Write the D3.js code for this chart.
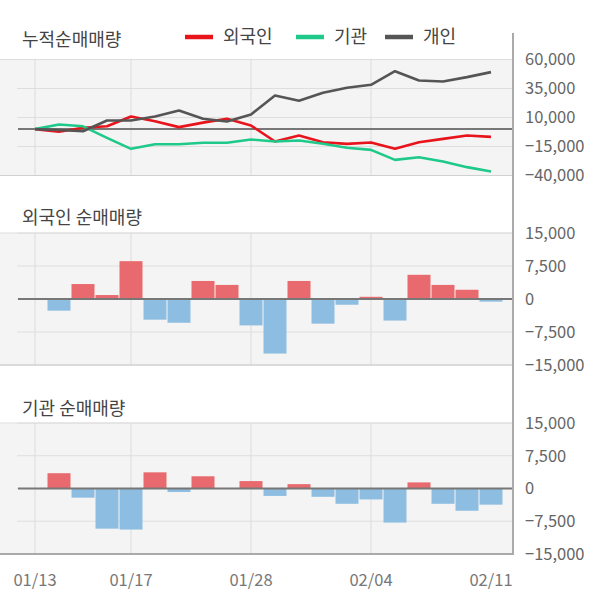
<!DOCTYPE html>
<html><head><meta charset="utf-8">
<script src="https://cdn.jsdelivr.net/npm/d3@7"></script>
<style>
html,body{margin:0;padding:0;background:#fff;}
svg{display:block;font-family:"Noto Sans CJK KR","Noto Sans",sans-serif;}
</style></head>
<body>
<svg id="c" width="600" height="604"></svg>
<script>
const dates = ["01/13","01/14","01/15","01/16","01/17","01/20","01/21","01/22","01/23","01/28",
               "01/29","01/30","01/31","02/03","02/04","02/05","02/06","02/07","02/10","02/11"];
const tickDates = ["01/13","01/17","01/28","02/04","02/11"];
const gridDates = ["01/13","01/17","01/28","02/04"];

const cumForeign = [0,-2300,1100,2500,10900,6800,1700,5600,8900,3100,-10700,-5500,-11300,-12700,-11600,-17000,-11300,-8400,-5500,-6700];
const cumInst    = [0,4000,2400,-7500,-17000,-13000,-13000,-11800,-11800,-9000,-10700,-9800,-12700,-16100,-17900,-26500,-24200,-27900,-32800,-36500];
const cumIndiv   = [0,-800,-1800,7400,7400,10900,16000,8900,6600,12600,29000,24400,31300,35600,38200,49900,41900,41000,44800,49100];

const dayForeign = [0,-2650,3400,900,8600,-4700,-5400,4100,3200,-6000,-12400,4100,-5600,-1300,500,-4900,5500,3200,2100,-600];
const dayInst    = [0,3500,-2100,-9200,-9400,3700,-800,2800,0,1700,-1700,1000,-1900,-3500,-2500,-7800,1400,-3500,-5100,-3700];

const topTicks = [60000,35000,10000,-15000,-40000];
const barTicks = [15000,7500,0,-7500,-15000];

const seriesNames = ["외국인","기관","개인"];
const seriesColors = ["#e8141c","#1fc98a","#555555"];
const titles = ["누적순매매량","외국인 순매매량","기관 순매매량"];

const svg = d3.select("#c");
const fmt = d3.format(",");
const xLeft = 0, xRight = 513, gridLeft = 17;

const x = d3.scalePoint().domain(dates).range([35, 491]);
const bw = 23;

const panels = [
  {top:59.5, bottom:175.5, domain:[-40000,60000], ticks:topTicks, title:titles[0], titleY:40},
  {top:233, bottom:365, domain:[-15000,15000], ticks:barTicks, title:titles[1], titleY:218, data:dayForeign},
  {top:423, bottom:554, domain:[-15000,15000], ticks:barTicks, title:titles[2], titleY:409, data:dayInst}
];

panels.forEach((p,pi)=>{
  const y = d3.scaleLinear().domain(p.domain).range([p.bottom,p.top]);
  p.y = y;
  svg.append("rect").attr("x",xLeft).attr("y",p.top).attr("width",xRight-xLeft).attr("height",p.bottom-p.top).attr("fill","#f4f4f4");
  svg.append("g").selectAll("line").data(p.ticks).join("line")
    .attr("x1",d=> (d===p.domain[0]) ? xLeft : gridLeft).attr("x2",xRight)
    .attr("y1",d=>y(d)).attr("y2",d=>y(d))
    .attr("stroke",d=> d===p.domain[0] ? "#cfcfcf" : "#dedede").attr("stroke-width",1);
  svg.append("line").attr("x1",xLeft).attr("x2",xRight).attr("y1",p.top).attr("y2",p.top).attr("stroke","#dedede");
  svg.append("g").selectAll("line").data(gridDates).join("line")
    .attr("x1",d=>x(d)).attr("x2",d=>x(d)).attr("y1",p.top).attr("y2",p.bottom)
    .attr("stroke","#dcdcdc").attr("stroke-width",1);
  const ax = d3.axisRight(y).tickValues(p.ticks).tickFormat(fmt).tickSize(0).tickPadding(12);
  const g = svg.append("g").attr("transform",`translate(${xRight},0)`).call(ax);
  g.select(".domain").remove();
  g.selectAll("text").attr("fill","#666").style("font-size","16.5px").attr("font-family","'Noto Sans CJK KR','Noto Sans',sans-serif");
  svg.append("text").attr("x",22).attr("y",p.titleY).attr("dy","0.35em").attr("fill","#444")
    .style("font-size","18px").text(p.title);
  if(p.data){
    svg.append("g").selectAll("rect").data(p.data.map((v,i)=>({d:dates[i],v}))).join("rect")
      .attr("x",d=>x(d.d)-bw/2).attr("width",bw)
      .attr("y",d=>y(Math.max(0,d.v))).attr("height",d=>Math.abs(y(d.v)-y(0)))
      .attr("fill",d=>d.v>=0?"#e96a6e":"#8dbde0");
  }
  svg.append("line").attr("x1",xLeft).attr("x2",xRight).attr("y1",p.bottom).attr("y2",p.bottom)
    .attr("stroke", pi===2 ? "#aaaaaa" : "#d0d0d0").attr("stroke-width", pi===2?2:1);
  svg.append("line").attr("x1",18).attr("x2",xRight).attr("y1",y(0)).attr("y2",y(0))
    .attr("stroke","#777").attr("stroke-width",2);
});

const yt = panels[0].y;
const line = d3.line().x((d,i)=>x(dates[i])).y(d=>yt(d));
[cumForeign,cumInst,cumIndiv].forEach((s,si)=>{
  svg.append("path").datum(s).attr("d",line).attr("fill","none")
    .attr("stroke",seriesColors[si]).attr("stroke-width",2.6).attr("stroke-linejoin","round");
});

svg.append("line").attr("x1",xRight).attr("x2",xRight).attr("y1",33).attr("y2",555)
  .attr("stroke","#aaaaaa").attr("stroke-width",2);

svg.append("g").selectAll("text").data(tickDates).join("text")
  .attr("x",d=>x(d)).attr("y",580).attr("dy","0.35em").attr("text-anchor","middle")
  .attr("fill","#777").style("font-size","16.5px").text(d=>d);

const legX = [185,296,385];
seriesNames.forEach((n,i)=>{
  svg.append("line").attr("x1",legX[i]).attr("x2",legX[i]+28).attr("y1",37).attr("y2",37)
    .attr("stroke",seriesColors[i]).attr("stroke-width",4.5);
  svg.append("text").attr("x",legX[i]+38).attr("y",37).attr("dy","0.35em").attr("fill","#444")
    .style("font-size","18px").text(n);
});
</script>
</body></html>
